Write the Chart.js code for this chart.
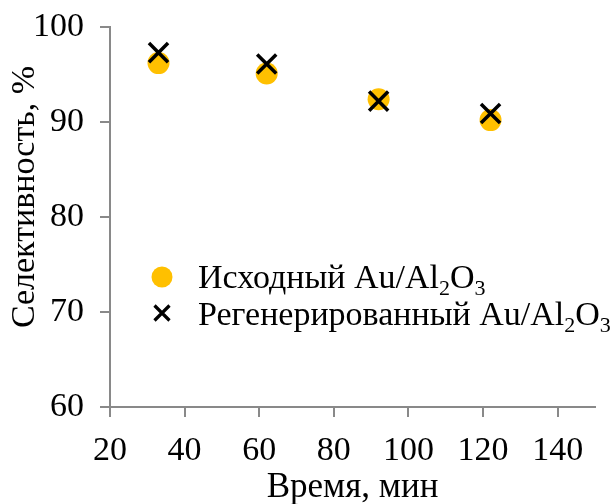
<!DOCTYPE html>
<html><head><meta charset="utf-8">
<script src="https://cdn.jsdelivr.net/npm/chart.js@4"></script>
<style>html,body{margin:0;padding:0;background:#fff}#wrap{width:612px;height:504px}</style>
</head><body><div id="wrap"><canvas id="c" width="612" height="504"></canvas></div>
<script>
const timeMin = [33, 62, 92, 122];
const selInitial = [96.2, 95.1, 92.4, 90.2];
const selRegen = [97.3, 96.1, 92.2, 90.9];
const seriesNames = ['Исходный Au/Al₂O₃', 'Регенерированный Au/Al₂O₃'];
const xTicks = [20, 40, 60, 80, 100, 120, 140];
const yTicks = [60, 70, 80, 90, 100];
const xTitle = 'Время, мин';
const yTitle = 'Селективность, %';

const FONT = "'Liberation Serif', 'Times New Roman', serif";
const AXIS = '#898989';
const GOLD = '#FFC000';

function toPoints(xs, ys) { return xs.map((x, i) => ({x: x, y: ys[i]})); }

const subMap = {'₀':'0','₁':'1','₂':'2','₃':'3','₄':'4','₅':'5','₆':'6','₇':'7','₈':'8','₉':'9'};
function drawRich(ctx, text, x, y, size) {
  let parts = [];
  for (const ch of text) {
    const sub = subMap[ch] !== undefined;
    const c = sub ? subMap[ch] : ch;
    if (parts.length && parts[parts.length - 1].sub === sub) parts[parts.length - 1].t += c;
    else parts.push({t: c, sub: sub});
  }
  ctx.textBaseline = 'alphabetic';
  ctx.textAlign = 'left';
  for (const p of parts) {
    const fs = p.sub ? Math.round(size * 0.66) : size;
    ctx.font = fs + 'px ' + FONT;
    ctx.fillText(p.t, x, p.sub ? y + size * 0.22 : y);
    x += ctx.measureText(p.t).width;
  }
}

const legendPlugin = {
  id: 'richLegend',
  beforeDraw(chart) {
    const s = chart.scales.y;
    if (!s._titleShifted) {
      const orig = s.drawTitle;
      s.drawTitle = function () {
        const ctx = this.ctx;
        ctx.save(); ctx.translate(0, -20); orig.apply(this, arguments); ctx.restore();
      };
      s._titleShifted = true;
    }
  },
  afterDraw(chart) {
    const ctx = chart.ctx, a = chart.chartArea;
    const mx = a.left + 52, tx = a.left + 88;
    const rows = [a.top + 250, a.top + 286];
    ctx.save();
    ctx.fillStyle = GOLD;
    ctx.beginPath(); ctx.arc(mx, rows[0], 10.5, 0, Math.PI * 2); ctx.fill();
    ctx.strokeStyle = '#000'; ctx.lineWidth = 3.2; ctx.lineCap = 'butt';
    const h = 7.5;
    ctx.beginPath();
    ctx.moveTo(mx - h, rows[1] - h); ctx.lineTo(mx + h, rows[1] + h);
    ctx.moveTo(mx + h, rows[1] - h); ctx.lineTo(mx - h, rows[1] + h);
    ctx.stroke();
    ctx.fillStyle = '#000';
    drawRich(ctx, seriesNames[0], tx, rows[0] + 11, 34);
    drawRich(ctx, seriesNames[1], tx, rows[1] + 12, 34);
    ctx.restore();
  }
};

new Chart(document.getElementById('c'), {
  type: 'scatter',
  data: {
    datasets: [
      {label: seriesNames[0], data: toPoints(timeMin, selInitial), pointStyle: 'circle', pointRadius: 11,
       backgroundColor: GOLD, borderColor: GOLD, borderWidth: 0, order: 1},
      {label: seriesNames[1], data: toPoints(timeMin, selRegen), pointStyle: 'crossRot', pointRadius: 13.5,
       backgroundColor: '#000', borderColor: '#000', borderWidth: 3.5, order: 0}
    ]
  },
  options: {
    responsive: false, animation: false,
    layout: {padding: {top: 27, right: 9, left: 0, bottom: 0}},
    plugins: {legend: {display: false}, tooltip: {enabled: false}},
    scales: {
      x: {
        type: 'linear', min: 20, max: 150,
        afterBuildTicks: s => { s.ticks = xTicks.map(v => ({value: v})); },
        afterFit: s => { s.height = 97; s.paddingLeft = 0; s.paddingRight = 0; },
        ticks: {font: {family: FONT, size: 34}, color: '#000', padding: 14, maxRotation: 0, autoSkip: false, includeBounds: false},
        grid: {drawOnChartArea: false, drawTicks: true, tickLength: 10, color: AXIS, lineWidth: 2},
        border: {color: AXIS, width: 2},
        title: {display: true, text: xTitle, color: '#000', font: {family: FONT, size: 35, lineHeight: 0.9}, padding: {top: 0, bottom: 0}}
      },
      y: {
        min: 60, max: 100,
        afterBuildTicks: s => { s.ticks = yTicks.map(v => ({value: v})); },
        afterFit: s => { s.width = 110; s.paddingTop = 0; s.paddingBottom = 0; },
        ticks: {font: {family: FONT, size: 34}, color: '#000', padding: 16},
        grid: {drawOnChartArea: false, drawTicks: true, tickLength: 10, color: AXIS, lineWidth: 2},
        border: {color: AXIS, width: 2},
        title: {display: true, text: yTitle, color: '#000', font: {family: FONT, size: 34, lineHeight: 1}, padding: {top: 8, bottom: 0}}
      }
    }
  },
  plugins: [legendPlugin]
});
</script>
</body></html>
